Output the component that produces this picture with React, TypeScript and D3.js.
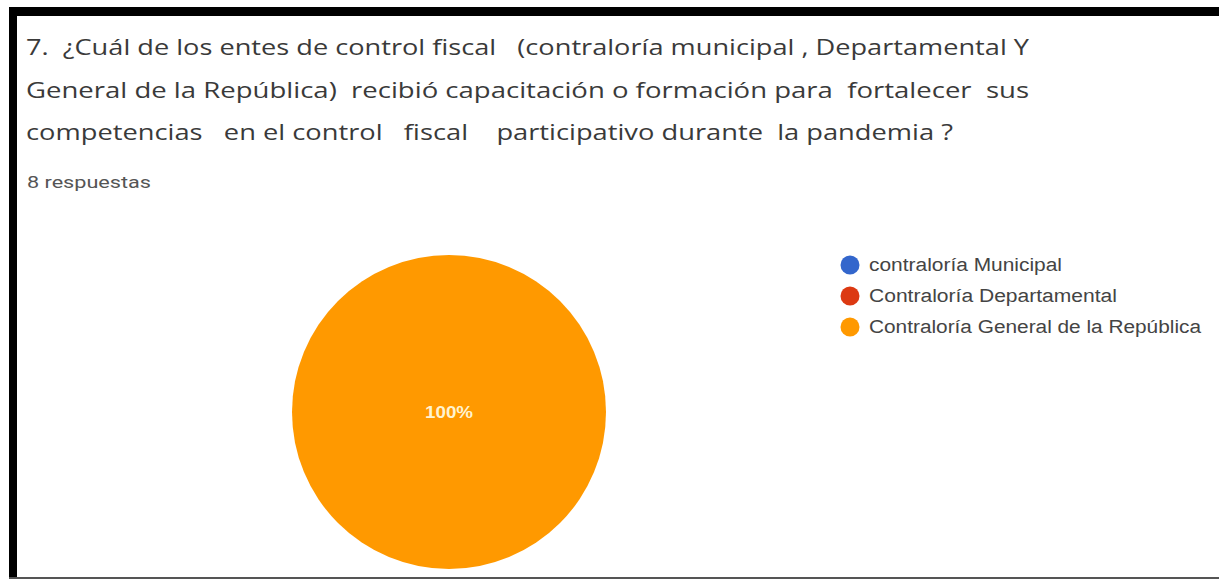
import { useEffect, useRef } from 'react'
import * as d3 from 'd3'

const titleLines = [
  '7.  ¿Cuál de los entes de control fiscal   (contraloría municipal , Departamental Y',
  'General de la República)  recibió capacitación o formación para  fortalecer  sus',
  'competencias   en el control   fiscal    participativo durante  la pandemia ?',
]
const titleWidths = [1003, 1003, 927]
const subtitle = '8 respuestas'
const categories = ['contraloría Municipal', 'Contraloría Departamental', 'Contraloría General de la República']
const legendWidths = [193, 248, 332]
const values = [0, 0, 8]
const colors = ['#3366cc', '#dc3912', '#ff9900']

const W = 1219
const H = 580

export default function App() {
  const ref = useRef<SVGSVGElement>(null)

  useEffect(() => {
    if (!ref.current) return
    const svg = d3.select(ref.current)
    svg.selectAll('*').remove()

    svg.append('rect').attr('width', W).attr('height', H).attr('fill', '#fff')

    // frame
    svg.append('rect').attr('x', 9).attr('y', 7).attr('width', W - 9).attr('height', 9).attr('fill', '#000')
    svg.append('rect').attr('x', 9).attr('y', 7).attr('width', 8).attr('height', H - 9).attr('fill', '#000')
    svg.append('rect').attr('x', 9).attr('y', 577).attr('width', W - 9).attr('height', 2).attr('fill', '#555')

    // title
    svg.append('g').selectAll('text').data(titleLines).join('text')
      .attr('x', 26).attr('y', (_, i) => 55 + i * 42.5)
      .attr('font-family', '"Open Sans", sans-serif').attr('font-size', 22)
      .attr('fill', '#3a3a3a')
      .attr('textLength', (_, i) => titleWidths[i])
      .attr('lengthAdjust', 'spacingAndGlyphs')
      .style('white-space', 'pre')
      .text(d => d)

    svg.append('text')
      .attr('x', 27).attr('y', 188)
      .attr('font-family', 'Roboto, sans-serif').attr('font-size', 16)
      .attr('fill', '#555')
      .attr('textLength', 124)
      .attr('lengthAdjust', 'spacingAndGlyphs')
      .text(subtitle)

    // pie
    const cx = 449, cy = 412, r = 157
    const pie = d3.pie<number>().sort(null).value(d => d)
    const arcs = pie(values)
    const arc = d3.arc<d3.PieArcDatum<number>>().innerRadius(0).outerRadius(r)
    const g = svg.append('g').attr('transform', `translate(${cx},${cy})`)
    g.selectAll('path').data(arcs.filter(a => a.data > 0)).join('path')
      .attr('d', arc)
      .attr('fill', a => colors[a.index])
    const total = d3.sum(values)
    g.selectAll('text').data(arcs.filter(a => a.data > 0)).join('text')
      .attr('transform', a => {
        const c = a.endAngle - a.startAngle >= Math.PI * 2 - 1e-6 ? [0, 0] : arc.centroid(a)
        return `translate(${c[0]},${c[1]})`
      })
      .attr('text-anchor', 'middle').attr('dy', '0.35em')
      .attr('font-family', '"Liberation Sans", Arial, sans-serif').attr('font-size', 16).attr('font-weight', 'bold')
      .attr('fill', '#fff3d0')
      .attr('textLength', 48)
      .attr('lengthAdjust', 'spacingAndGlyphs')
      .text(a => `${Math.round((a.data / total) * 100)}%`)

    // legend
    const lg = svg.append('g').attr('transform', 'translate(850,265)')
    const item = lg.selectAll('g').data(categories).join('g')
      .attr('transform', (_, i) => `translate(0,${i * 31})`)
    item.append('circle').attr('r', 9.5).attr('fill', (_, i) => colors[i])
    item.append('text')
      .attr('x', 19).attr('dy', '0.36em')
      .attr('font-family', '"Liberation Sans", Arial, sans-serif').attr('font-size', 18)
      .attr('fill', '#444')
      .attr('textLength', (_, i) => legendWidths[i])
      .attr('lengthAdjust', 'spacingAndGlyphs')
      .text(d => d)
  }, [])

  return <svg ref={ref} width={W} height={H} style={{ position: 'absolute', left: 0, top: 0 }} />
}
